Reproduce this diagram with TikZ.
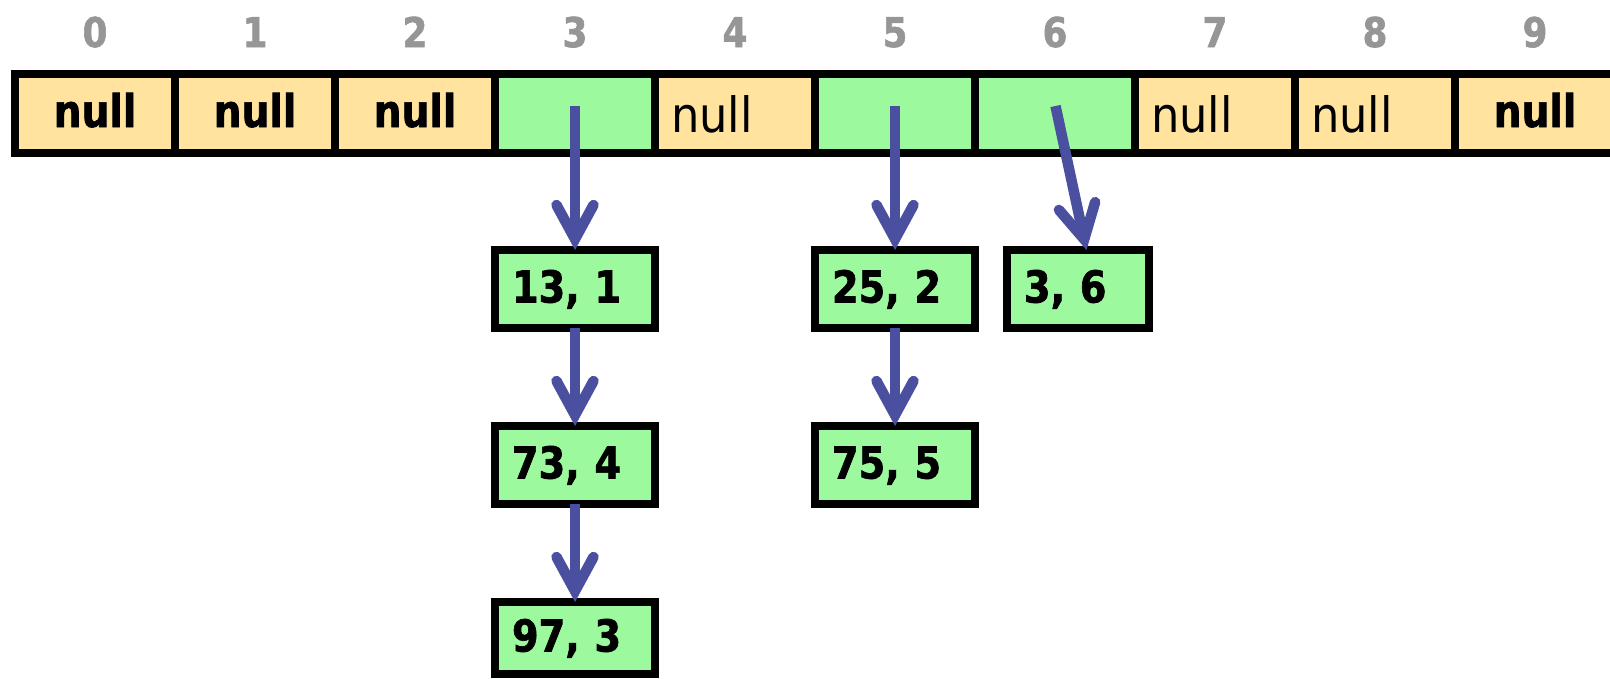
\documentclass[tikz,border=0pt]{standalone}
\usepackage{fontspec}
\setmainfont{DejaVu Sans}
\newfontfamily\bfnt[FakeStretch=0.87,FakeBold=1.5]{DejaVu Sans}
\newfontfamily\rgfnt[FakeStretch=0.92]{DejaVu Sans}
\usetikzlibrary{arrows.meta}
\definecolor{cellyellow}{HTML}{FFE39F}
\definecolor{cellgreen}{HTML}{9DF99D}
\definecolor{ptrblue}{HTML}{4A4F9F}
\definecolor{idxgray}{HTML}{969696}
\begin{document}
\begin{tikzpicture}[x=1pt,y=-1pt,
  cellbox/.style={draw=black,line width=8pt,outer sep=0pt,minimum width=160pt,minimum height=79pt,inner xsep=16pt,inner ysep=0pt,text width=128pt},
  nullbold/.style={cellbox,fill=cellyellow,align=center,font=\bfnt\bfseries\fontsize{45}{50}\selectfont,text height=34pt,text depth=7pt},
  nullreg/.style={cellbox,fill=cellyellow,align=left,font=\rgfnt\fontsize{48.7}{55}\selectfont,text height=37pt,text depth=0pt},
  ptrcell/.style={cellbox,fill=cellgreen},
  idx/.style={text=idxgray,font=\bfnt\bfseries\fontsize{41}{46}\selectfont,text height=30pt,text depth=0pt,inner sep=0pt},
  entry/.style={draw=black,fill=cellgreen,line width=8pt,outer sep=0pt,minimum height=78pt,inner xsep=17pt,inner ysep=0pt,align=left,font=\bfnt\bfseries\fontsize{44}{50}\selectfont,text height=32pt,text depth=5pt},
  ptr/.style={draw=ptrblue,line width=10.5pt,-{Straight Barb[length=34pt,width=37pt,line cap=round,line join=miter]}}
]
\useasboundingbox (0,0) rectangle (1610,678);
% index labels
\node[idx] (i0) at (95,32) {0};
\node[idx] (i1) at (255,32) {1};
\node[idx] (i2) at (415,32) {2};
\node[idx] (i3) at (575,32) {3};
\node[idx] (i4) at (735,32) {4};
\node[idx] (i5) at (895,32) {5};
\node[idx] (i6) at (1055,32) {6};
\node[idx] (i7) at (1215,32) {7};
\node[idx] (i8) at (1375,32) {8};
\node[idx] (i9) at (1535,32) {9};
% array cells
\node[nullbold] (c0) at (95,113.5) {null};
\node[nullbold] (c1) at (255,113.5) {null};
\node[nullbold] (c2) at (415,113.5) {null};
\node[ptrcell] (c3) at (575,113.5) {};
\node[nullreg] (c4) at (735,113.5) {null};
\node[ptrcell] (c5) at (895,113.5) {};
\node[ptrcell] (c6) at (1055,113.5) {};
\node[nullreg] (c7) at (1215,113.5) {null};
\node[nullreg] (c8) at (1375,113.5) {null};
\node[nullbold] (c9) at (1535,113.5) {null};
% chain entries
\node[entry,text width=126pt] (e131) at (575,289) {13, 1};
\node[entry,text width=126pt] (e734) at (575,465) {73, 4};
\node[entry,text width=126pt,minimum height=72pt] (e973) at (575,638) {97, 3};
\node[entry,text width=126pt] (e252) at (895,289) {25, 2};
\node[entry,text width=126pt] (e755) at (895,465) {75, 5};
\node[entry,text width=108pt] (e36) at (1078,289) {3, 6};
% pointer start points
\coordinate (s3) at (575,106);
\coordinate (s5) at (895,106);
\coordinate (s6) at (1055.5,106);
% pointers
\draw[ptr] (s3) -- (e131.north);
\draw[ptr] (s5) -- (e252.north);
\draw[ptr] (s6) -- ([xshift=8.5pt]e36.north);
\draw[ptr] (e131.south) -- (e734.north);
\draw[ptr] (e734.south) -- (e973.north);
\draw[ptr] (e252.south) -- (e755.north);
\end{tikzpicture}
\end{document}
